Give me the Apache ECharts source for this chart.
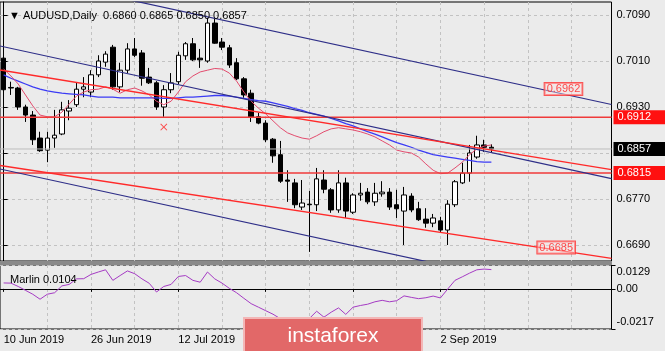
<!DOCTYPE html>
<html lang="en">
<head>
<meta charset="utf-8">
<title>AUDUSD Daily</title>
<script src="https://cdn.jsdelivr.net/npm/echarts@6/dist/echarts.min.js"></script>
<style>
  html, body { margin: 0; padding: 0; background: #ebebeb; }
  #main { width: 665px; height: 351px; }
</style>
</head>
<body>
<div id="main"></div>
<script>
// trading days shown, then the empty slots MT4 leaves on the right
var dates = ('2019-06-10 2019-06-11 2019-06-12 2019-06-13 2019-06-14 2019-06-17 2019-06-18 2019-06-19 2019-06-20 2019-06-21 ' +
  '2019-06-24 2019-06-25 2019-06-26 2019-06-27 2019-06-28 2019-07-01 2019-07-02 2019-07-03 2019-07-04 2019-07-05 ' +
  '2019-07-08 2019-07-09 2019-07-10 2019-07-11 2019-07-12 2019-07-15 2019-07-16 2019-07-17 2019-07-18 2019-07-19 ' +
  '2019-07-22 2019-07-23 2019-07-24 2019-07-25 2019-07-26 2019-07-29 2019-07-30 2019-07-31 2019-08-01 2019-08-02 ' +
  '2019-08-05 2019-08-06 2019-08-07 2019-08-08 2019-08-09 2019-08-12 2019-08-13 2019-08-14 2019-08-15 2019-08-16 ' +
  '2019-08-19 2019-08-20 2019-08-21 2019-08-22 2019-08-23 2019-08-26 2019-08-27 2019-08-28 2019-08-29 2019-08-30 ' +
  '2019-09-02 2019-09-03 2019-09-04 2019-09-05 2019-09-06 2019-09-09 2019-09-10 2019-09-11').split(' ');
var futureDates = ('2019-09-12 2019-09-13 2019-09-16 2019-09-17 2019-09-18 2019-09-19 2019-09-20 2019-09-23 ' +
  '2019-09-24 2019-09-25 2019-09-26 2019-09-27 2019-09-30 2019-10-01 2019-10-02 2019-10-03').split(' ');

var opens = [.7015,.6964,.6963,.6930,.6916,.6876,.6855,.6876,.6883,.6923,
  .6934,.6961,.6956,.6986,.7008,.7034,.6965,.6994,.7031,.7024,
  .6982,.6972,.6930,.6960,.6974,.7019,.7040,.7015,.7010,.7076,
  .7043,.7033,.7007,.6979,.6954,.6913,.6902,.6874,.6847,.6803,
  .6798,.6756,.6761,.6760,.6803,.6786,.6751,.6798,.6747,.6777,
  .6782,.6765,.6779,.6782,.6760,.6749,.6775,.6753,.6735,.6728,
  .6732,.6716,.6760,.6798,.6815,.6843,.6864,.6860];
var highs = [.7020,.6974,.6965,.6934,.6923,.6887,.6887,.6925,.6939,.6942,
  .6972,.6982,.6994,.7020,.7027,.7038,.7007,.7041,.7050,.7029,
  .6998,.6975,.6968,.6989,.7026,.7043,.7050,.7031,.7085,.7083,
  .7050,.7038,.7015,.6982,.6960,.6920,.6907,.6876,.6871,.6820,
  .6805,.6803,.6784,.6824,.6820,.6789,.6820,.6807,.6780,.6798,
  .6789,.6798,.6801,.6789,.6786,.6791,.6780,.6765,.6754,.6744,
  .6739,.6768,.6803,.6833,.6864,.6880,.6873,.6865];
var lows = [.6956,.6951,.6925,.6904,.6864,.6852,.6834,.6859,.6881,.6907,
  .6930,.6947,.6947,.6982,.7000,.6960,.6956,.6989,.7017,.6967,
  .6970,.6925,.6913,.6954,.6970,.7012,.7010,.6998,.7007,.7040,
  .7029,.6998,.6977,.6946,.6904,.6900,.6869,.6833,.6798,.6765,
  .6754,.6751,.6678,.6749,.6780,.6746,.6746,.6737,.6744,.6767,
  .6761,.6758,.6774,.6751,.6737,.6690,.6747,.6732,.6720,.6721,
  .6711,.6690,.6756,.6796,.6800,.6840,.6852,.6850];
var closes = [.6960,.6963,.6930,.6916,.6873,.6854,.6876,.6881,.6925,.6928,
  .6961,.6965,.6986,.7010,.7022,.6965,.6994,.7031,.7020,.6980,
  .6972,.6930,.6960,.6972,.7020,.7040,.7012,.7012,.7076,.7041,
  .7034,.7003,.6979,.6951,.6913,.6902,.6873,.6845,.6801,.6801,
  .6760,.6763,.6760,.6805,.6787,.6751,.6798,.6749,.6777,.6780,
  .6765,.6780,.6782,.6756,.6753,.6777,.6751,.6734,.6728,.6737,
  .6716,.6761,.6800,.6815,.6850,.6864,.6860,.6857];

// moving averages as drawn on the chart
var maBlue = [.6986,.6980,.6975,.6970,.6965,.6961,.6958,.6956,.6954,.6953,
  .6952,.6951,.6949,.6947,.6947,.6947,.6946,.6946,.6946,.6946,
  .6946,.6946,.6945,.6945,.6946,.6947,.6947,.6948,.6949,.6950,
  .6950,.6949,.6947,.6945,.6943,.6941,.6940,.6937,.6934,.6931,
  .6927,.6924,.6920,.6917,.6914,.6910,.6906,.6901,.6897,.6892,
  .6887,.6883,.6878,.6873,.6868,.6864,.6860,.6855,.6851,.6847,
  .6845,.6843,.6841,.6839,.6837,.6835,.6834,.6834];
var maRed = [.6996,.6984,.6970,.6951,.6932,.6916,.6913,.6913,.6921,.6935,
  .6949,.6956,.6960,.6961,.6965,.6961,.6954,.6960,.6963,.6958,
  .6951,.6940,.6934,.6940,.6956,.6974,.6984,.6991,.6994,.6997,
  .6996,.6989,.6975,.6956,.6940,.6928,.6918,.6906,.6894,.6885,
  .6880,.6876,.6874,.6880,.6887,.6892,.6894,.6892,.6890,.6887,
  .6883,.6878,.6871,.6864,.6855,.6852,.6850,.6843,.6831,.6820,
  .6814,.6815,.6824,.6834,.6847,.6857,.6862,.6864];

var marlin = [.0032,.0031,.0013,-.0008,-.0029,-.0056,-.0029,-.0021,.0016,.0024,
  .0054,.0055,.0078,.0091,.0103,.0046,.0072,.0097,.0082,.0054,
  .0030,-.0017,.0013,.0024,.0067,.0072,.0046,.0036,.0091,.0054,
  .0031,.0003,-.0021,-.0051,-.0080,-.0099,-.0118,-.0137,-.0161,-.0178,
  -.0190,-.0195,-.0160,-.0121,-.0153,-.0126,-.0103,-.0138,-.0099,-.0090,
  -.0083,-.0070,-.0062,-.0070,-.0064,-.0038,-.0046,-.0053,-.0048,-.0039,
  -.0049,-.0001,.0046,.0065,.0085,.0103,.0107,.0104];

// trend lines: [barIndex, price] at both ends of the window
var navyUpper = [[-0.5, 0.71651], [83.5, 0.69344]];
var navyMiddle = [[-0.5, 0.70361], [83.5, 0.68053]];
var navyLower = [[-0.5, 0.68222], [83.5, 0.65914]];
var redUpper = [[-0.5, 0.69944], [83.5, 0.68210]];
var redLower = [[-0.5, 0.68283], [83.5, 0.66667]];
var lineTags = [[76.9, 0.69613, '0.6962'], [75.9, 0.66857, '0.6685']];
var crossMark = [[22, 0.6895]];

var levels = [0.6912, 0.6815];
var bid = 0.6857;
var priceTicks = [0.6690, 0.6770, 0.6850, 0.6930, 0.7010, 0.7090];
var marlinTicks = [-0.0217, 0, 0.0129];

var months = ['Jan','Feb','Mar','Apr','May','Jun','Jul','Aug','Sep','Oct','Nov','Dec'];
function fmtDate(s) {
  var p = s.split('-');
  return (+p[2]) + ' ' + months[+p[1] - 1] + ' ' + p[0];
}

var categories = dates.concat(futureDates);
var candles = opens.map(function (o, i) { return [o, closes[i], lows[i], highs[i]]; });

var gridLine = { show: true, lineStyle: { color: '#c2c2c2', type: [3, 3], width: 1 } };
var vSplit = function (i) { return i > 0 && i % 6 === 0; };
var dateTick = function (i) { return i % 12 === 0 && i <= 60; };
var FONT = 'Liberation Sans';

// horizontal price line with its box on the price scale
function levelSeries(name, value, lineColor, width, boxColor) {
  return {
    name: name, type: 'line', xAxisIndex: 1, yAxisIndex: 0, z: 5,
    data: [[-0.5, value], [83.5, value]],
    symbol: 'none', lineStyle: { color: lineColor, width: width },
    endLabel: {
      show: true, formatter: value.toFixed(4), distance: 2, color: '#fff', fontSize: 11,
      fontFamily: FONT, backgroundColor: boxColor, padding: [2, 0, 1, 4], width: 50
    }
  };
}

function trendSeries(name, pts, color, width) {
  return {
    name: name, type: 'line', xAxisIndex: 1, yAxisIndex: 0, z: 5, data: pts,
    symbol: 'none', lineStyle: { color: color, width: width }
  };
}

var myChart = echarts.init(document.getElementById('main'), null, { renderer: 'canvas' });

var option = {
  backgroundColor: '#ebebeb',
  animation: false,
  textStyle: { fontFamily: FONT },
  title: [{
    text: '▼ AUDUSD,Daily  0.6860 0.6865 0.6850 0.6857',
    left: 4, top: 5,
    textStyle: { fontSize: 11, fontWeight: 'normal', color: '#000', fontFamily: FONT }
  }, {
    text: 'Marlin 0.0104',
    left: 5, top: 269,
    textStyle: { fontSize: 11, fontWeight: 'normal', color: '#000', fontFamily: FONT }
  }],
  grid: [
    { left: 0, top: 2, width: 611.5, height: 259, show: true, borderColor: '#000', borderWidth: 1, backgroundColor: 'transparent' },
    { left: 0, top: 265, width: 611.5, height: 64, show: true, borderColor: '#000', borderWidth: 1, backgroundColor: 'transparent' }
  ],
  xAxis: [{
    type: 'category', gridIndex: 0, data: categories, boundaryGap: true,
    axisLine: { show: false }, axisTick: { show: false }, axisLabel: { show: false },
    splitLine: { show: true, interval: vSplit, alignWithLabel: true, lineStyle: gridLine.lineStyle }
  }, {
    type: 'value', gridIndex: 0, min: -0.5, max: 83.5, show: false
  }, {
    type: 'category', gridIndex: 1, data: categories, boundaryGap: true,
    axisLine: { show: true, lineStyle: { color: '#000' } },
    axisTick: { show: true, interval: dateTick, alignWithLabel: true, length: 3, lineStyle: { color: '#000' } },
    axisLabel: { interval: dateTick, align: 'left', margin: 5, color: '#000', fontSize: 11, formatter: fmtDate },
    splitLine: { show: true, interval: vSplit, alignWithLabel: true, lineStyle: gridLine.lineStyle }
  }],
  yAxis: [{
    type: 'value', gridIndex: 0, position: 'right', min: 0.666217, max: 0.711261,
    axisLine: { show: true, lineStyle: { color: '#000' } },
    axisTick: { show: true, length: 4, customValues: priceTicks, lineStyle: { color: '#000' } },
    axisLabel: { customValues: priceTicks, margin: 5, color: '#000', fontSize: 11,
      formatter: function (v) { return v.toFixed(4); } },
    splitLine: gridLine
  }, {
    type: 'value', gridIndex: 1, position: 'right', min: -0.0217, max: 0.0129,
    axisLine: { show: true, lineStyle: { color: '#000' } },
    axisTick: { show: true, length: 4, customValues: marlinTicks, lineStyle: { color: '#000' } },
    axisLabel: {
      customValues: marlinTicks, margin: 5, color: '#000', fontSize: 11,
      formatter: function (v) {
        if (v > 0.001) return '{t|' + v.toFixed(4) + '}';
        if (v < -0.001) return '{b|' + v.toFixed(4) + '}';
        return '0.00';
      },
      rich: { t: { padding: [14, 0, 0, 0], fontSize: 11 }, b: { padding: [0, 0, 14, 0], fontSize: 11 } }
    },
    splitLine: gridLine
  }],
  series: [{
    name: 'AUDUSD', type: 'candlestick', xAxisIndex: 0, yAxisIndex: 0, z: 3,
    data: candles, barWidth: 5,
    itemStyle: { color: '#ffffff', color0: '#000000', borderColor: '#000000', borderColor0: '#000000', borderWidth: 1 }
  }, {
    name: 'MA blue', type: 'line', xAxisIndex: 0, yAxisIndex: 0, z: 4, data: maBlue,
    symbol: 'none', lineStyle: { color: '#3b3bf5', width: 1.3 }
  }, {
    name: 'MA red', type: 'line', xAxisIndex: 0, yAxisIndex: 0, z: 4, data: maRed,
    symbol: 'none', lineStyle: { color: '#e34c6e', width: 1 }
  },
    levelSeries('bid', bid, '#bdbdbd', 1, '#000000'),
    levelSeries('level1', levels[0], '#f03a3a', 1.5, '#ff1010'),
    levelSeries('level2', levels[1], '#f03a3a', 1.5, '#ff1010'),
    trendSeries('channel1', navyUpper, '#2e2e88', 1.2),
    trendSeries('channel2', navyMiddle, '#2e2e88', 1.2),
    trendSeries('channel3', navyLower, '#2e2e88', 1.2),
    trendSeries('red1', redUpper, '#ff2a2a', 1.4),
    trendSeries('red2', redLower, '#ff2a2a', 1.4),
  {
    name: 'tags', type: 'scatter', xAxisIndex: 1, yAxisIndex: 0, z: 6, symbolSize: 1,
    itemStyle: { color: 'transparent' },
    data: lineTags.map(function (t) { return { value: [t[0], t[1]], name: t[2] }; }),
    label: { show: true, position: 'inside', formatter: '{b}', color: '#ff2020', fontSize: 11,
      backgroundColor: 'rgba(250,225,225,0.55)', borderColor: '#ff3030', borderWidth: 1, padding: [1, 2, 0, 2] }
  }, {
    name: 'mark', type: 'scatter', xAxisIndex: 0, yAxisIndex: 0, z: 6, data: crossMark,
    symbol: 'path://M1,0L5,4L9,0L10,1L6,5L10,9L9,10L5,6L1,10L0,9L4,5L0,1Z', symbolSize: 7,
    itemStyle: { color: '#ff2020' }
  }, {
    name: 'Marlin', type: 'line', xAxisIndex: 2, yAxisIndex: 1, data: marlin,
    symbol: 'none', lineStyle: { color: '#a53bc4', width: 1 }
  }],
  graphic: [
    { type: 'rect', x: 0, y: 261, shape: { width: 612, height: 4 }, style: { fill: '#8a8a8a' }, z: 50 },
    { type: 'rect', x: 244, y: 318, shape: { width: 178, height: 40 },
      style: { fill: '#e26868', stroke: '#f3b6b6', lineWidth: 2 }, z: 100 },
    { type: 'text', x: 333, y: 336, z: 101,
      style: { text: 'instaforex', fill: '#ffffff', font: '21px "Liberation Sans"', align: 'center', verticalAlign: 'middle' } }
  ]
};

myChart.setOption(option);
</script>
</body>
</html>
